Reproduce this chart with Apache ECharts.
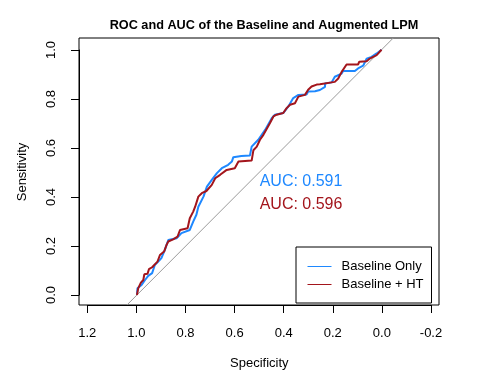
<!DOCTYPE html>
<html>
<head>
<meta charset="utf-8">
<script src="https://cdn.jsdelivr.net/npm/echarts@6/dist/echarts.min.js"></script>
<style>
html,body{margin:0;padding:0;background:#fff;}
#chart{width:480px;height:384px;}
</style>
</head>
<body>
<div id="chart"></div>
<script>
// ---- data ----
var seriesNames = ['Baseline Only', 'Baseline + HT'];
var aucValues = [0.591, 0.596];

var blueSpec = [1.000,0.998,0.981,0.967,0.954,0.938,0.927,0.913,0.900,0.886,0.872,0.838,0.818,0.784,0.770,0.757,0.749,0.728,0.714,0.694,0.673,0.653,0.627,0.612,0.606,0.573,0.538,0.531,0.504,0.490,0.476,0.449,0.436,0.402,0.381,0.361,0.340,0.306,0.300,0.272,0.252,0.231,0.231,0.204,0.191,0.163,0.157,0.109,0.096,0.075,0.061,0.041,0.020,0.000];
var blueSens = [0.000,0.027,0.041,0.061,0.078,0.089,0.122,0.136,0.150,0.184,0.224,0.231,0.252,0.265,0.299,0.327,0.360,0.401,0.442,0.469,0.497,0.517,0.531,0.544,0.562,0.567,0.569,0.605,0.633,0.653,0.673,0.721,0.735,0.742,0.769,0.803,0.816,0.818,0.830,0.831,0.836,0.849,0.862,0.867,0.890,0.903,0.913,0.913,0.924,0.935,0.964,0.971,0.985,1.000];

var redSpec = [1.000,0.995,0.984,0.974,0.970,0.957,0.951,0.938,0.916,0.906,0.889,0.879,0.872,0.852,0.834,0.824,0.793,0.784,0.770,0.762,0.749,0.735,0.716,0.694,0.680,0.660,0.633,0.600,0.585,0.531,0.524,0.510,0.497,0.483,0.456,0.442,0.429,0.402,0.388,0.374,0.354,0.340,0.313,0.300,0.286,0.265,0.252,0.191,0.177,0.163,0.143,0.096,0.091,0.061,0.048,0.020,0.000];
var redSens = [0.000,0.027,0.050,0.061,0.084,0.086,0.105,0.113,0.136,0.163,0.177,0.204,0.218,0.227,0.238,0.265,0.272,0.313,0.340,0.360,0.401,0.415,0.424,0.449,0.476,0.490,0.510,0.517,0.544,0.548,0.590,0.605,0.633,0.653,0.701,0.728,0.735,0.742,0.762,0.776,0.782,0.809,0.816,0.837,0.850,0.858,0.859,0.869,0.883,0.910,0.940,0.940,0.951,0.953,0.964,0.978,1.000];

var xTickMin = -0.2, xTickMax = 1.2, tickStep = 0.2;
var yTickMin = 0, yTickMax = 1;

// ---- layout ----
var X_MIN = -0.235, X_MAX = 1.237, Y_MIN = -0.041, Y_MAX = 1.048;
var FONT = '"Liberation Sans", Arial, Helvetica, sans-serif';
var BLUE = '#1E88FF', RED = '#A3151C';

function zip(a, b) { return a.map(function (v, i) { return [v, b[i]]; }); }
var diag = [[1 - Y_MIN, Y_MIN], [1 - Y_MAX, Y_MAX]];

var chart = echarts.init(document.getElementById('chart'), null, {renderer: 'canvas'});
var fmt = function (v) { return Number(v).toFixed(1); };

chart.setOption({
  animation: false,
  backgroundColor: '#fff',
  title: {
    text: 'ROC and AUC of the Baseline and Augmented LPM',
    left: 259, top: 14, textAlign: 'center',
    textStyle: {fontFamily: FONT, fontSize: 12.7, fontWeight: 'bold', color: '#000'}
  },
  grid: [
    {left: 79, right: 41, top: 38, bottom: 79, show: true, borderColor: '#000', borderWidth: 1, backgroundColor: 'transparent'},
    {left: 87.3, right: 49, top: 38, bottom: 79},
    {left: 79, right: 41, top: 50, bottom: 89}
  ],
  xAxis: [
    {gridIndex: 0, type: 'value', min: X_MIN, max: X_MAX, inverse: true, show: false},
    {gridIndex: 1, type: 'value', min: xTickMin, max: xTickMax, interval: tickStep, inverse: true,
      axisLine: {show: true, lineStyle: {color: '#000', width: 1}},
      axisTick: {show: true, inside: false, length: 8, lineStyle: {color: '#000'}},
      splitLine: {show: false},
      axisLabel: {show: true, margin: 22, color: '#000', fontFamily: FONT, fontSize: 13, formatter: fmt, showMinLabel: true, showMaxLabel: true}
    },
    {gridIndex: 2, type: 'value', min: 0, max: 1, show: false}
  ],
  yAxis: [
    {gridIndex: 0, type: 'value', min: Y_MIN, max: Y_MAX, show: false},
    {gridIndex: 1, type: 'value', min: 0, max: 1, show: false},
    {gridIndex: 2, type: 'value', min: yTickMin, max: yTickMax, interval: tickStep,
      axisLine: {show: true, lineStyle: {color: '#000', width: 1}},
      axisTick: {show: true, inside: false, length: 8, lineStyle: {color: '#000'}},
      splitLine: {show: false},
      axisLabel: {show: true, rotate: 90, margin: 21, color: '#000', fontFamily: FONT, fontSize: 13, formatter: fmt, showMinLabel: true, showMaxLabel: true}
    }
  ],
  legend: {
    data: seriesNames,
    orient: 'vertical',
    left: 296, top: 247,
    padding: [13, 8, 12, 11],
    itemWidth: 24, itemHeight: 14, itemGap: 5,
    borderColor: '#000', borderWidth: 1, borderRadius: 0,
    lineStyle: {width: 1},
    itemStyle: {opacity: 0},
    textStyle: {fontFamily: FONT, fontSize: 13, color: '#000', padding: [0, 0, 0, 5]}
  },
  graphic: [
    {type: 'text', left: 259.7, top: 174, style: {text: 'AUC: ' + aucValues[0].toFixed(3), fill: BLUE, font: '16px ' + FONT}},
    {type: 'text', left: 259.7, top: 197, style: {text: 'AUC: ' + aucValues[1].toFixed(3), fill: RED, font: '16px ' + FONT}},
    {type: 'text', left: 230, top: 357, style: {text: 'Specificity', fill: '#000', font: '13px ' + FONT}},
    {type: 'text', x: 22.7, y: 172, rotation: Math.PI / 2,
      style: {text: 'Sensitivity', fill: '#000', font: '13px ' + FONT, align: 'center', verticalAlign: 'middle'}}
  ],
  series: [
    {type: 'line', name: 'diag', xAxisIndex: 0, yAxisIndex: 0, data: diag, symbol: 'none', silent: true,
      lineStyle: {color: '#9a9a9a', width: 1}, z: 1},
    {type: 'line', name: seriesNames[0], xAxisIndex: 0, yAxisIndex: 0, data: zip(blueSpec, blueSens), symbol: 'none',
      color: BLUE, lineStyle: {color: BLUE, width: 2}, z: 2},
    {type: 'line', name: seriesNames[1], xAxisIndex: 0, yAxisIndex: 0, data: zip(redSpec, redSens), symbol: 'none',
      color: RED, lineStyle: {color: RED, width: 2}, z: 3}
  ]
});
</script>
</body>
</html>
